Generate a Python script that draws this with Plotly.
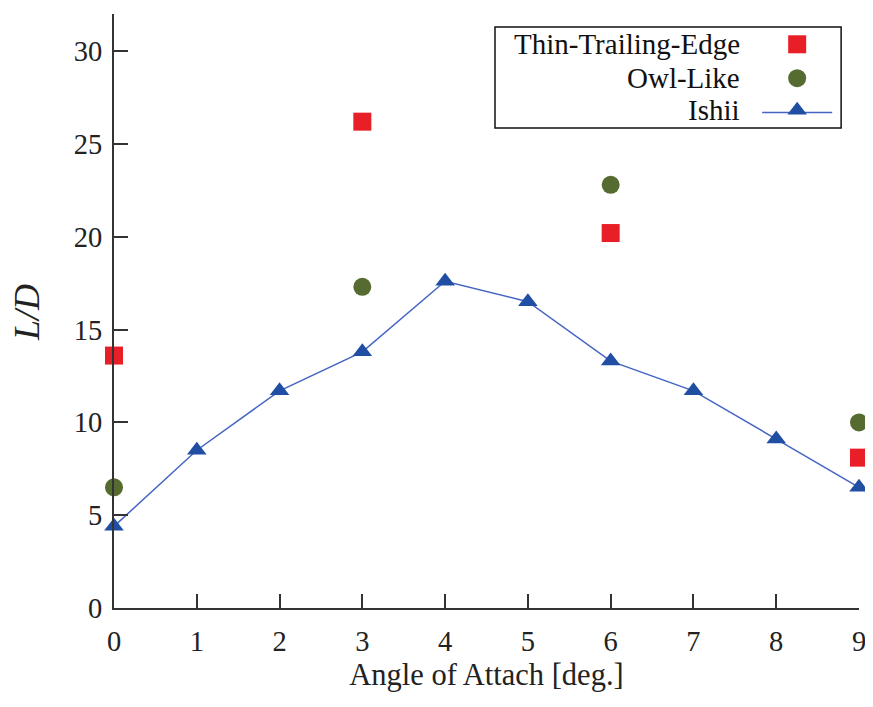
import plotly.graph_objects as go

# ---- data ----
angles = [0, 1, 2, 3, 4, 5, 6, 7, 8, 9]
ishii_ld = [4.4, 8.5, 11.7, 13.8, 17.6, 16.5, 13.3, 11.7, 9.1, 6.5]
tte_angles = [0, 3, 6, 9]
tte_ld = [13.6, 26.2, 20.2, 8.1]
owl_angles = [0, 3, 6, 9]
owl_ld = [6.5, 17.3, 22.8, 10.0]
x_ticks = [0, 1, 2, 3, 4, 5, 6, 7, 8, 9]
y_ticks = [0, 5, 10, 15, 20, 25, 30]
series_names = ["Thin-Trailing-Edge", "Owl-Like", "Ishii"]

RED = "#E81F26"
GREEN = "#566B2F"
BLUE = "#1F4EA3"
LINE_BLUE = "#4565C4"
FONT = "Liberation Serif"
AX = "#333333"

fig = go.Figure()

fig.add_trace(go.Scatter(
    x=angles, y=ishii_ld, mode="lines+markers", name=series_names[2],
    line=dict(color=LINE_BLUE, width=1.5),
    marker=dict(symbol="triangle-up", size=17, color=BLUE),
    cliponaxis=False, showlegend=False))
fig.add_trace(go.Scatter(
    x=owl_angles, y=owl_ld, mode="markers", name=series_names[1],
    marker=dict(symbol="circle", size=18, color=GREEN),
    cliponaxis=False, showlegend=False))
fig.add_trace(go.Scatter(
    x=tte_angles, y=tte_ld, mode="markers", name=series_names[0],
    marker=dict(symbol="square", size=18, color=RED),
    cliponaxis=False, showlegend=False))

# ---- custom legend (text left, symbol right) on an overlay axis in paper units ----
rows_y = [0.949, 0.892, 0.838]
sym_x = 0.917
text_x = 0.843
fig.add_trace(go.Scatter(
    x=[sym_x], y=[rows_y[0]], xaxis="x2", yaxis="y2", mode="markers",
    marker=dict(symbol="square", size=18, color=RED), showlegend=False, hoverinfo="skip"))
fig.add_trace(go.Scatter(
    x=[sym_x], y=[rows_y[1]], xaxis="x2", yaxis="y2", mode="markers",
    marker=dict(symbol="circle", size=18, color=GREEN), showlegend=False, hoverinfo="skip"))
fig.add_trace(go.Scatter(
    x=[0.870, 0.964], y=[rows_y[2] - 0.004, rows_y[2] - 0.004], xaxis="x2", yaxis="y2", mode="lines",
    line=dict(color=LINE_BLUE, width=1.5), showlegend=False, hoverinfo="skip"))
fig.add_trace(go.Scatter(
    x=[sym_x], y=[rows_y[2]], xaxis="x2", yaxis="y2", mode="markers",
    marker=dict(symbol="triangle-up", size=17, color=BLUE), showlegend=False, hoverinfo="skip"))

annotations = []
for name, yy in zip(series_names, rows_y):
    annotations.append(dict(
        x=text_x, y=yy, xref="paper", yref="paper", text=name, showarrow=False,
        xanchor="right", yanchor="middle", font=dict(family=FONT, size=29, color="#111111")))

# y-axis title
annotations.append(dict(
    x=-0.117, y=0.498, xref="paper", yref="paper", text="<i>L/D</i>", showarrow=False,
    textangle=-90, xanchor="center", yanchor="middle",
    font=dict(family=FONT, size=36, color="#222222")))

fig.add_shape(type="rect", xref="paper", yref="paper",
              x0=0.5114, x1=0.976, y0=0.808, y1=0.978,
              line=dict(color="#111111", width=1.5), fillcolor="rgba(0,0,0,0)")

fig.update_layout(
    width=873, height=707,
    margin=dict(l=106, r=22, t=6, b=107),
    paper_bgcolor="white", plot_bgcolor="white",
    showlegend=False,
    annotations=annotations,
    xaxis=dict(
        range=[0, 9], tickvals=x_ticks, ticktext=[str(v) for v in x_ticks],
        showgrid=False, zeroline=False, showline=True, linecolor=AX, linewidth=2,
        ticks="inside", ticklen=14, tickwidth=1.5, tickcolor=AX,
        ticklabelstandoff=7,
        tickfont=dict(family=FONT, size=28.5, color="#222222"),
        title=dict(text="Angle of Attach [deg.]", standoff=7,
                   font=dict(family=FONT, size=30.5, color="#222222"))),
    yaxis=dict(
        range=[0, 32], tickvals=y_ticks, ticktext=[str(v) for v in y_ticks],
        showgrid=False, zeroline=False, showline=True, linecolor=AX, linewidth=2,
        ticks="inside", ticklen=14, tickwidth=1.5, tickcolor=AX,
        ticklabelstandoff=4,
        tickfont=dict(family=FONT, size=28.5, color="#222222")),
    xaxis2=dict(range=[0, 1], overlaying="x", visible=False, fixedrange=True),
    yaxis2=dict(range=[0, 1], overlaying="y", visible=False, fixedrange=True),
)

fig.write_html("out.html")
